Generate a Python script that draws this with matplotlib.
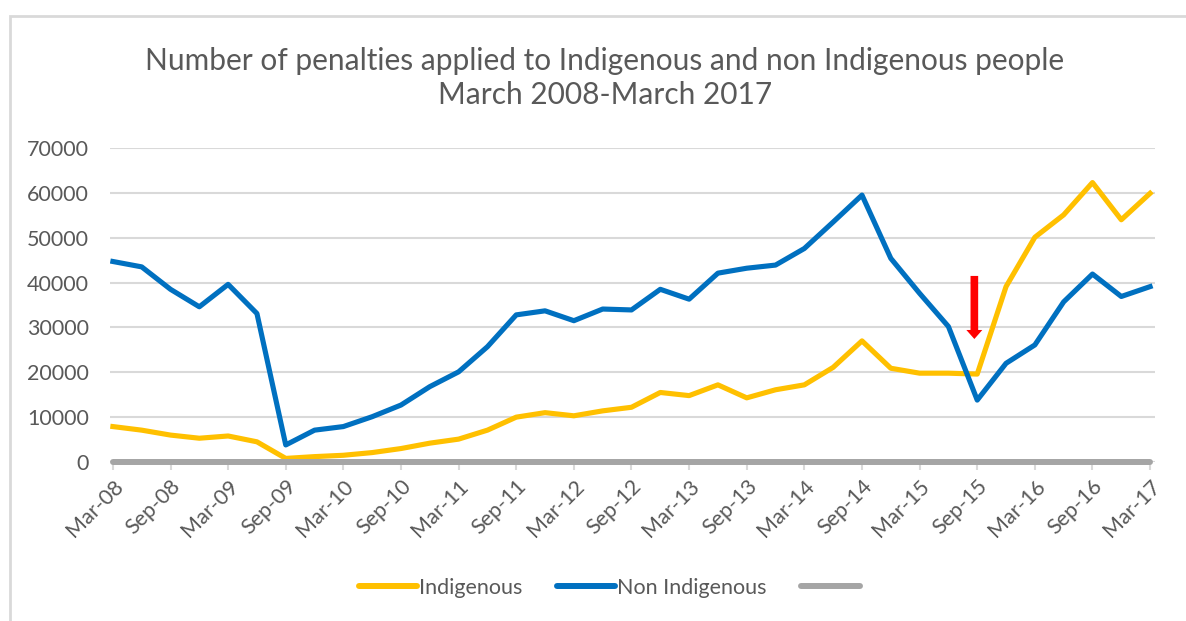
#!/usr/bin/env python3
import numpy as np
import matplotlib as mpl
mpl.use('Agg')
import matplotlib.pyplot as plt
from matplotlib.lines import Line2D
from matplotlib.patches import FancyArrowPatch, Rectangle

# quarterly data, Mar-08 .. Mar-17
indigenous = [7900, 7100, 6000, 5300, 5800, 4500, 800, 1200, 1500, 2100,
              3000, 4200, 5100, 7100, 10000, 11000, 10300, 11400, 12200, 15500,
              14800, 17200, 14300, 16100, 17200, 21100, 27000, 20900, 19800, 19800,
              19600, 39100, 50100, 55100, 62300, 54000, 59900]
non_indigenous = [44700, 43500, 38500, 34600, 39600, 33100, 3800, 7100, 7900, 10100,
                  12700, 16800, 20100, 25700, 32800, 33700, 31500, 34100, 33900, 38500,
                  36300, 42100, 43200, 43900, 47600, 53500, 59500, 45400, 37600, 30200,
                  13800, 22000, 26100, 35700, 41900, 36900, 39100]
blank = [0] * 37
tick_labels = ['Mar-08', 'Sep-08', 'Mar-09', 'Sep-09', 'Mar-10', 'Sep-10', 'Mar-11',
               'Sep-11', 'Mar-12', 'Sep-12', 'Mar-13', 'Sep-13', 'Mar-14', 'Sep-14',
               'Mar-15', 'Sep-15', 'Mar-16', 'Sep-16', 'Mar-17']
y_ticks = [0, 10000, 20000, 30000, 40000, 50000, 60000, 70000]

# red arrow (annotation, data coords)
arrow_x = 29.9
arrow_y0, arrow_y1 = 42100, 26800

YELLOW = '#FFC000'
BLUE = '#0070C0'
GREY = '#A5A5A5'
TXT = '#595959'
GRID = '#D9D9D9'

plt.rcParams['font.family'] = ['Lato', 'DejaVu Sans']

fig = plt.figure(figsize=(11.86, 6.21), dpi=100)
W, H = 1186, 621
ax = fig.add_axes([110 / W, 1 - 462 / H, (1155 - 110) / W, (462 - 148) / H])

# chart frame
fig.patches.append(Rectangle((10 / W, -0.1), 1.2, 1 - 16 / H + 0.1, transform=fig.transFigure,
                             fill=False, edgecolor=GRID, linewidth=2))

x = np.arange(len(indigenous))
ax.plot(x, indigenous, color=YELLOW, lw=3.7, solid_joinstyle='round', zorder=3)
ax.plot(x, non_indigenous, color=BLUE, lw=3.7, solid_joinstyle='round', zorder=4)
ax.plot(x, blank, color=GREY, lw=4.3, solid_capstyle='round', zorder=5, clip_on=False)

ax.set_xlim(-0.1, 36.17)
ax.set_ylim(0, 70000)
ax.set_yticks(y_ticks)
ax.set_yticklabels([str(v) for v in y_ticks])
ax.set_xticks(np.arange(0, 37, 2))
ax.set_xticklabels(tick_labels, rotation=45, ha='right', rotation_mode='anchor')
ax.grid(axis='y', color=GRID, lw=1.5)
ax.set_axisbelow(True)
for s in ax.spines.values():
    s.set_visible(False)
ax.tick_params(axis='y', length=0, pad=15, labelsize=15.5, labelcolor=TXT)
ax.tick_params(axis='x', length=6, width=1.5, color=GRID, pad=4, labelsize=15.5, labelcolor=TXT)

ax.add_patch(FancyArrowPatch((arrow_x, arrow_y0), (arrow_x, arrow_y1),
                             arrowstyle='simple,head_length=0.65,head_width=1.15,tail_width=0.55',
                             mutation_scale=10, color='#FF0000', lw=0, zorder=6))

fig.text(605 / W, 1 - 78 / H, 'Number of penalties applied to Indigenous and non Indigenous people\nMarch 2008-March 2017',
         ha='center', va='center', fontsize=21.5, color=TXT, linespacing=1.3)

handles = [Line2D([], [], color=c, lw=4.3, solid_capstyle='round') for c in (YELLOW, BLUE, GREY)]
fig.legend(handles, ['Indigenous', 'Non Indigenous', ' '], loc='center', bbox_to_anchor=(0.517, 1 - 588 / H),
           ncol=3, frameon=False, fontsize=15.5, labelcolor=TXT, handlelength=2.7, handletextpad=0.1,
           columnspacing=1.6)

fig.savefig('out.png', dpi=100)
